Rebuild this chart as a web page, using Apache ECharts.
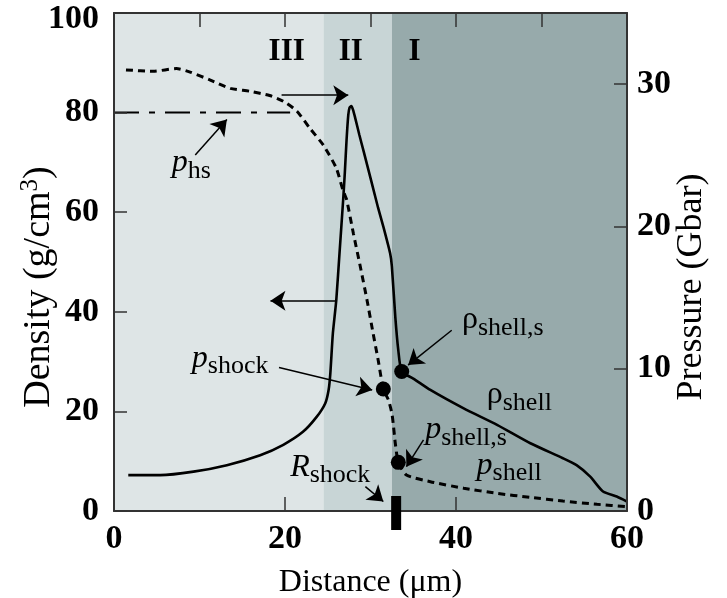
<!DOCTYPE html>
<html><head><meta charset="utf-8">
<script src="https://cdn.jsdelivr.net/npm/echarts@6/dist/echarts.min.js"></script>
<style>html,body{margin:0;padding:0;background:#fff}#c{width:727px;height:598px}</style>
</head><body><div id="c"></div>
<script>
// ---- data ----
const xTicksLabels = [0, 20, 40, 60];
const densityX = [1.67, 5.4, 9.3, 13.2, 17.1, 19.8, 22.1, 23.7, 24.7, 25.1, 25.3, 25.6, 26.0, 26.4, 26.8, 27.0, 27.2, 27.4, 27.55, 27.75, 27.95, 28.2, 28.7, 29.2, 30.1, 30.9, 31.5, 32.3, 32.5, 32.9, 33.25, 33.65, 35.0, 37.0, 40.9, 44.8, 48.7, 52.5, 54.1, 55.7, 57.2, 58.8, 60];
const densityY = [7.2, 7.2, 7.9, 9.2, 11.2, 13.3, 15.9, 18.9, 21.6, 24.3, 27.6, 35.7, 42.4, 52.4, 62.4, 68.0, 74.5, 79.5, 81.0, 81.3, 80.6, 79.0, 75.5, 72.2, 66.2, 60.8, 57.1, 51.7, 49.1, 39.0, 32.3, 28.0, 26.6, 24.3, 20.6, 17.3, 13.6, 10.6, 9.2, 6.9, 3.9, 2.9, 1.9];
const pressureX = [1.4, 4.6, 7.3, 8.9, 11.2, 13.6, 15.9, 18.2, 19.8, 21.4, 22.9, 24.5, 26.0, 26.8, 27.2, 28.0, 28.8, 29.6, 30.3, 30.9, 31.5, 32.1, 32.5, 32.7, 32.9, 33.25, 34.2, 37.0, 40.9, 44.8, 48.7, 52.5, 56.5, 60];
const pressureY = [31.0, 30.9, 31.1, 30.85, 30.3, 29.7, 29.5, 29.2, 28.8, 28.1, 26.9, 25.7, 24.1, 22.5, 21.9, 19.5, 17.2, 14.8, 12.5, 10.6, 8.57, 7.8, 6.87, 5.9, 4.76, 3.42, 2.53, 2.06, 1.6, 1.24, 0.96, 0.70, 0.47, 0.30];
const phsX = [0, 20.6];
const phsY = [28, 28];
const pressurePointsX = [31.5, 33.25];   // p_shock, p_shell,s
const pressurePointsY = [8.57, 3.42];
const densityPointX = [33.65];           // rho_shell,s
const densityPointY = [28.0];
const rShock = [33.0];
const regionBounds = [0, 24.5, 32.5, 60];
const regionNames = ['III', 'II', 'I'];

// ---- annotations (data coords on density axis) ----
const arrows = [
  [[19.6, 83.5], [27.4, 83.5]],
  [[26.05, 42.2], [18.3, 42.2]],
  [[9.5, 71.5], [13.2, 78.6]],
  [[19.3, 28.8], [30.2, 24.3]],
  [[39.5, 36.3], [34.4, 29.3]],
  [[36.2, 14.3], [34.2, 8.9]],
  [[29.4, 4.9], [31.5, 1.9]]
];
const labels = [
  {t: '{b|III}', at: [20.2, 92.1], align: 'center'},
  {t: '{b|II}', at: [27.7, 92.1], align: 'center'},
  {t: '{b|I}', at: [35.15, 92.1], align: 'center'},
  {t: '{pi|p}{s|hs}', at: [6.75, 69.9]},
  {t: '{pi|p}{s|shock}', at: [9.1, 30.7]},
  {t: '{r|ρ}{s|shell,s}', at: [40.7, 38.4]},
  {t: '{r|ρ}{s|shell}', at: [43.6, 23.3]},
  {t: '{pi|p}{s|shell,s}', at: [36.4, 16.3]},
  {t: '{pi|p}{s|shell}', at: [42.4, 9.2]},
  {t: '{pi|R}{s|shock}', at: [20.6, 8.8]}
];
const densityTitle = ['Density (g/cm', '3', ')'];
const pressureTitle = 'Pressure (Gbar)';

const FONT = 'Liberation Serif';
const regionColors = ['#dee5e6', '#c8d5d6', '#97aaab'];
const zip = (a, b) => a.map((v, i) => [v, b[i]]);

const chart = echarts.init(document.getElementById('c'), null, {renderer: 'canvas'});
const axisLineStyle = {color: '#333', width: 2};
const tickStyle = {color: '#333', width: 1.5};
const tickLabel = {fontFamily: FONT, fontSize: 34, fontWeight: 'bold', color: '#000'};

chart.setOption({
  animation: false,
  backgroundColor: '#fff',
  grid: {left: 114, right: 100, top: 13, bottom: 87, containLabel: false, outerBoundsMode: 'none'},
  xAxis: [
    {type: 'value', position: 'bottom', min: 0, max: 60, interval: 20, z: 10,
     axisLine: {show: true, onZero: false, lineStyle: axisLineStyle},
     axisTick: {show: true, inside: true, length: 14, lineStyle: tickStyle},
     splitLine: {show: false},
     axisLabel: Object.assign({margin: 11,
                 formatter: v => xTicksLabels.indexOf(v) >= 0 ? String(v) : ''}, tickLabel),
     name: 'Distance (μm)', nameLocation: 'middle', nameGap: 56,
     nameTextStyle: {fontFamily: FONT, fontSize: 32, color: '#000'}},
    {type: 'value', position: 'top', min: 0, max: 60, interval: 10, z: 10,
     axisLine: {show: true, onZero: false, lineStyle: axisLineStyle},
     axisTick: {show: true, inside: true, length: 14, lineStyle: tickStyle},
     splitLine: {show: false}, axisLabel: {show: false}}
  ],
  yAxis: [
    {type: 'value', position: 'left', min: 0, max: 100, interval: 20, z: 10,
     axisLine: {show: true, onZero: false, lineStyle: axisLineStyle},
     axisTick: {show: true, inside: true, length: 13, lineStyle: tickStyle},
     splitLine: {show: false},
     axisLabel: Object.assign({margin: 15,
       formatter: v => v === 100 ? '{t|100}' : String(v),
       rich: {t: {fontFamily: FONT, fontSize: 34, fontWeight: 'bold', color: '#000', padding: [12, 0, 0, 0]}}}, tickLabel)},
    {type: 'value', position: 'right', min: 0, max: 35, interval: 10, z: 10,
     axisLine: {show: true, onZero: false, lineStyle: axisLineStyle},
     axisTick: {show: true, inside: true, length: 13, lineStyle: tickStyle},
     splitLine: {show: false},
     axisLabel: Object.assign({margin: 10, showMaxLabel: false}, tickLabel)}
  ],
  series: [
    {type: 'line', name: 'regions', z: 1, xAxisIndex: 0, yAxisIndex: 0,
     data: zip(densityX, densityY), showSymbol: false, silent: true,
     lineStyle: {opacity: 0},
     markArea: {silent: true,
       data: regionNames.map((n, i) => [
         {xAxis: regionBounds[i], yAxis: 0, itemStyle: {color: regionColors[i], opacity: 1}},
         {xAxis: regionBounds[i + 1], yAxis: 100}
       ])}},
    {type: 'line', name: 'p_hs', z: 3, xAxisIndex: 0, yAxisIndex: 1,
     data: zip(phsX, phsY), showSymbol: false, silent: true,
     lineStyle: {color: '#000', width: 2, type: [25, 10, 6, 10]}},
    {type: 'line', name: 'pressure', z: 3, xAxisIndex: 0, yAxisIndex: 1,
     data: zip(pressureX, pressureY), showSymbol: false, silent: true,
     smooth: 0.2,
     lineStyle: {color: '#000', width: 3, type: [7, 5]}},
    {type: 'line', name: 'density', z: 4, xAxisIndex: 0, yAxisIndex: 0,
     data: zip(densityX, densityY), showSymbol: false, silent: true,
     smooth: 0.2,
     lineStyle: {color: '#000', width: 2.6},
     markLine: {silent: true, symbol: ['none', 'arrow'], symbolSize: 15,
       lineStyle: {color: '#000', width: 1.5, type: 'solid'},
       label: {show: false},
       data: arrows.map(a => [{coord: a[0]}, {coord: a[1]}])}},
    {type: 'scatter', name: 'pressurePoints', z: 5, xAxisIndex: 0, yAxisIndex: 1,
     data: zip(pressurePointsX, pressurePointsY), symbolSize: 15, silent: true,
     itemStyle: {color: '#000', opacity: 1}},
    {type: 'scatter', name: 'densityPoint', z: 5, xAxisIndex: 0, yAxisIndex: 0,
     data: zip(densityPointX, densityPointY), symbolSize: 15, silent: true,
     itemStyle: {color: '#000', opacity: 1}},
    {type: 'scatter', name: 'Rshock', z: 12, xAxisIndex: 0, yAxisIndex: 0, clip: false,
     data: rShock.map(x => [x, -0.4]), symbol: 'rect', symbolSize: [10, 34], silent: true,
     itemStyle: {color: '#000', opacity: 1}}
  ]
});

const rich = {
  b: {fontFamily: FONT, fontSize: 31, fontWeight: 'bold', fill: '#000'},
  pi: {fontFamily: FONT, fontSize: 32, fontStyle: 'italic', fill: '#000'},
  r: {fontFamily: FONT, fontSize: 32, fill: '#000'},
  s: {fontFamily: FONT, fontSize: 26, fill: '#000', padding: [16, 0, 0, 0]}
};
const graphics = labels.map(l => {
  const p = chart.convertToPixel({xAxisIndex: 0, yAxisIndex: 0}, l.at);
  return {type: 'text', x: p[0], y: p[1], z: 20, silent: true,
    style: {text: l.t, rich: rich, fill: '#000', fontFamily: FONT,
            align: l.align || 'left', verticalAlign: 'middle'}};
});
// axis titles for the two vertical axes
graphics.push({type: 'text', x: 39, y: 287, rotation: Math.PI / 2, silent: true, z: 20,
  style: {text: '{a|' + densityTitle[0] + '}{sup|' + densityTitle[1] + '}{a|' + densityTitle[2] + '}',
          align: 'center', verticalAlign: 'middle',
          rich: {a: {fontFamily: FONT, fontSize: 38, fill: '#000'},
                 sup: {fontFamily: FONT, fontSize: 25, fill: '#000', padding: [0, 0, 18, 0]}}}});
graphics.push({type: 'text', x: 692, y: 287, rotation: Math.PI / 2, silent: true, z: 20,
  style: {text: pressureTitle, align: 'center', verticalAlign: 'middle',
          fontFamily: FONT, fontSize: 36, fill: '#000'}});
chart.setOption({graphic: graphics});
</script></body></html>
